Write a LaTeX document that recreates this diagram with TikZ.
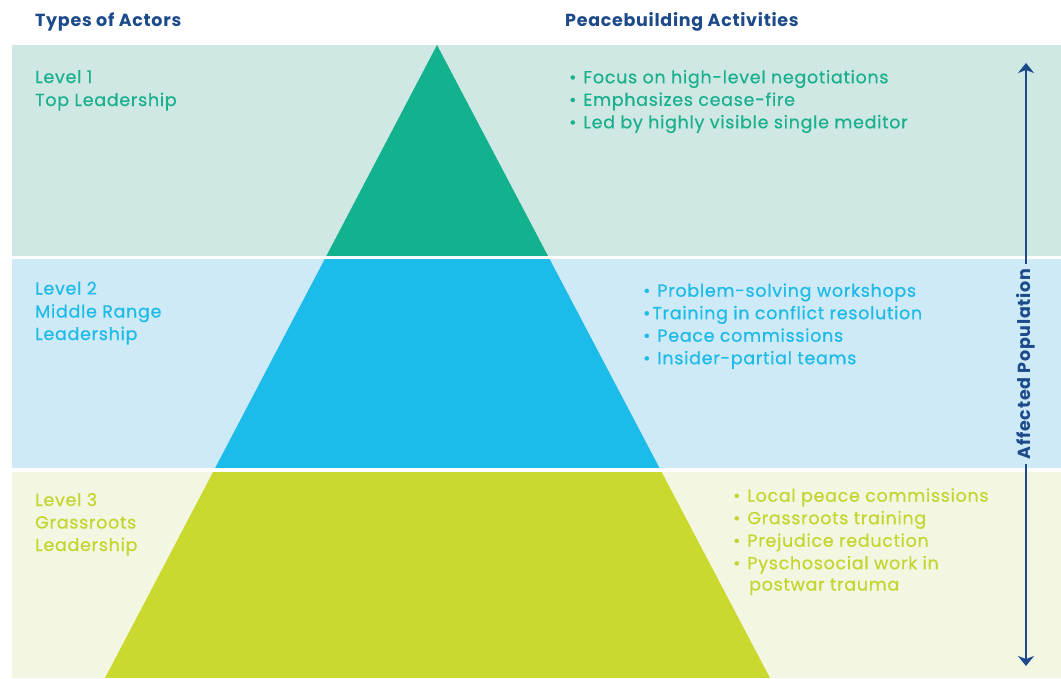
\documentclass[tikz,border=0pt]{standalone}
\usepackage{fontspec}
\setmainfont{Poppins}[LetterSpace=4, UprightFeatures={FakeBold=0.6}]
\usetikzlibrary{arrows.meta}
\definecolor{navy}{HTML}{1C4A8A}
\definecolor{bgA}{HTML}{CFE8E4}
\definecolor{triA}{HTML}{12B28E}
\definecolor{txtA}{HTML}{1AB08E}
\definecolor{bgB}{HTML}{CDEAF6}
\definecolor{triB}{HTML}{1CBCEA}
\definecolor{txtB}{HTML}{1EBAE8}
\definecolor{bgC}{HTML}{F3F7E2}
\definecolor{triC}{HTML}{C9D92D}
\definecolor{txtC}{HTML}{C4D52F}
\begin{document}
\begin{tikzpicture}[x=1pt,y=-1pt,
  lab/.style={anchor=base west, inner sep=0pt, font=\fontsize{17.5}{20}\selectfont},
  hdr/.style={anchor=base west, inner sep=0pt, text=navy, font=\fontsize{17.5}{20}\selectfont\bfseries},
  arr/.style={draw=navy, line width=1.6pt, -{Stealth[length=10pt,width=16pt,inset=3pt]}}]
\useasboundingbox (0,0) rectangle (1061,678);
\fill[white] (0,0) rectangle (1061,678);
% bands
\fill[bgA] (12,45) rectangle (1061,255.5);
\fill[bgB] (12,259) rectangle (1061,467.5);
\fill[bgC] (12,471.5) rectangle (1061,678);
% pyramid
\begin{scope}
  \clip (437,45) -- (105,678) -- (770,678) -- cycle;
  \fill[triA] (12,45) rectangle (1061,255.5);
  \fill[triB] (12,259) rectangle (1061,467.5);
  \fill[triC] (12,471.5) rectangle (1061,678);
\end{scope}
% headers
\node[hdr] (hA) at (35,26) {Types of Actors};
\node[hdr] (hB) at (565,26) {Peacebuilding Activities};
% left labels
\node[lab, text=txtA] (a1) at (35,83) {Level 1};
\node[lab, text=txtA] (a2) at (35,106) {Top Leadership};
\node[lab, text=txtB] (b1) at (35,294.5) {Level 2};
\node[lab, text=txtB] (b2) at (35,317.5) {Middle Range};
\node[lab, text=txtB] (b3) at (35,340) {Leadership};
\node[lab, text=txtC] (c1) at (35,506) {Level 3};
\node[lab, text=txtC] (c2) at (35,528.5) {Grassroots};
\node[lab, text=txtC] (c3) at (35,551) {Leadership};
% right activities
\node[lab, text=txtA] (ra1) at (569,83.3) {•\hspace{7pt}Focus on high-level negotiations};
\node[lab, text=txtA] (ra2) at (569,105.8) {•\hspace{7pt}Emphasizes cease-fire};
\node[lab, text=txtA] (ra3) at (569,128.3) {•\hspace{7pt}Led by highly visible single meditor};
\node[lab, text=txtB] (rb1) at (643,296.7) {•\hspace{7pt}Problem-solving workshops};
\node[lab, text=txtB] (rb2) at (643,319.2) {•\hspace{2pt}Training in conflict resolution};
\node[lab, text=txtB] (rb3) at (643,341.7) {•\hspace{7pt}Peace commissions};
\node[lab, text=txtB] (rb4) at (643,364.2) {•\hspace{7pt}Insider-partial teams};
\node[lab, text=txtC] (rc1) at (733,501.7) {•\hspace{7pt}Local peace commissions};
\node[lab, text=txtC] (rc2) at (733,524.2) {•\hspace{7pt}Grassroots training};
\node[lab, text=txtC] (rc3) at (733,546.7) {•\hspace{7pt}Prejudice reduction};
\node[lab, text=txtC] (rc4) at (733,569.2) {•\hspace{7pt}Pyschosocial work in};
\node[lab, text=txtC] (rc5) at (749,590.5) {postwar trauma};
% affected population arrow
\node[rotate=90, text=navy, inner sep=5pt, font=\fontsize{17.5}{20}\selectfont\bfseries] (ap) at (1026,364) {Affected Population};
\coordinate (atop) at (1026,63);
\coordinate (abot) at (1026,666);
\draw[arr] (ap.east) -- (atop);
\draw[arr] (ap.west) -- (abot);
\end{tikzpicture}
\end{document}
